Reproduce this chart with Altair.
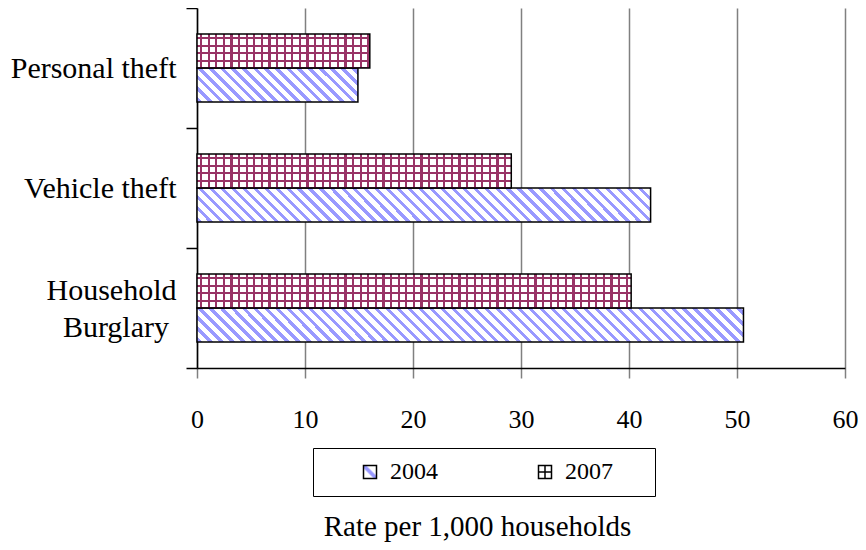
import math
import altair as alt
import pandas as pd

# ---------------- data ----------------
crimes = ["Personal theft", "Vehicle theft", "Household Burglary"]
years = ["2004", "2007"]
rate_2004 = [14.9, 42.0, 50.6]
rate_2007 = [16.0, 29.1, 40.2]
x_ticks = [0, 10, 20, 30, 40, 50, 60]

rows = []
for c, a, b in zip(crimes, rate_2004, rate_2007):
    rows.append({"crime": c, "year": "2004", "rate": a})
    rows.append({"crime": c, "year": "2007", "rate": b})
df = pd.DataFrame(rows)

# ---------------- style ----------------
FONT = "Liberation Serif"
PLOT_W, PLOT_H = 648, 360
X_MAX = 60
BAR_H = 34.0
PX = PLOT_W / X_MAX
BLUE = "#9999ff"
MAROON = "#993366"
WHITE = "#ffffff"
CLEAR = "rgba(255,255,255,0)"
CROSS_PATH = "M-1,-1H1V1H-1Z M0,-1V1 M-1,0H1"
NB = "\u00a0"
ZW = "\u200b"


def band_stops(length, period, width, phase, fg, bg, start=0.0):
    """Stops of a repeating band pattern along a gradient of `length` px."""
    stops = []
    m = math.floor((start - phase) / period) - 1
    while True:
        a = phase + m * period
        if a > start + length:
            break
        b = a + width
        ta = (a - start) / length
        tb = (b - start) / length
        if tb > 0 and ta < 1:
            ta = max(0.0, ta)
            tb = min(1.0, tb)
            stops += [(ta, bg), (ta, fg), (tb, fg), (tb, bg)]
        m += 1
    if not stops or stops[0][0] > 0:
        stops.insert(0, (0.0, bg))
    if stops[-1][0] < 1:
        stops.append((1.0, bg))
    out = []
    last = 0.0
    for o, c in stops:
        o = round(max(o, last), 5)
        last = o
        out.append({"offset": o, "color": c})
    return out


def diag_gradient(value):
    W = value * PX
    H = BAR_H
    k = (1 + H / W) / (1 + (H / W) ** 2)
    return {
        "gradient": "linear",
        "x1": 0, "y1": 1, "x2": round(k, 5), "y2": round(1 - k * H / W, 5),
        "stops": band_stops(W + H, 11.0, 4.5, 0.0, BLUE, WHITE, start=-H),
    }


def vlines_gradient(value):
    W = value * PX
    return {
        "gradient": "linear", "x1": 0, "y1": 0, "x2": 1, "y2": 0,
        "stops": band_stops(W, 7.6, 2.2, 3.0, MAROON, WHITE),
    }


hlines_gradient = {
    "gradient": "linear", "x1": 0, "y1": 0, "x2": 0, "y2": 1,
    "stops": band_stops(BAR_H, 7.6, 2.2, 3.0, MAROON, CLEAR),
}


def per_crime_fill(grads):
    conds = [
        {"test": f"datum.crime === '{c}'", "value": g}
        for c, g in zip(crimes[:-1], grads[:-1])
    ]
    return alt.FillValue(grads[-1], condition=conds)


# legend symbol fill: a diagonal band for 2004, plain white for 2007
LEGEND_FILL_EXPR = (
    "datum.value === '2004' ? {gradient: 'linear', x1: 0, y1: 1, x2: 1, y2: 0, "
    "stops: [{offset: 0, color: '#ffffff'}, {offset: 0.36, color: '#ffffff'}, "
    "{offset: 0.44, color: '" + BLUE + "'}, {offset: 0.56, color: '" + BLUE + "'}, "
    "{offset: 0.64, color: '#ffffff'}, {offset: 1, color: '#ffffff'}]} : '#ffffff'"
)

# ---------------- encodings ----------------
y_enc = alt.Y(
    "crime:N",
    sort=crimes,
    scale=alt.Scale(domain=crimes, paddingInner=0, paddingOuter=0),
    axis=alt.Axis(
        title=None,
        tickBand="extent",
        labelExpr="datum.value == 'Household Burglary' ? ['Household', 'Burglary" + NB + ZW + "'] : datum.label",
        labelFont=FONT, labelFontSize=30, labelColor="black",
        labelPadding=10, labelLimit=400, labelLineHeight=37,
        labelOffset={"condition": {"test": "datum.value == 'Household Burglary'", "value": -18},
                     "value": 0},
        tickSize=11, tickColor="black", tickWidth=1.5,
        domainColor="black", domainWidth=1.5, grid=False,
    ),
)

x_enc = alt.X(
    "rate:Q",
    scale=alt.Scale(domain=[0, X_MAX], nice=False, zero=True),
    axis=alt.Axis(
        values=x_ticks,
        title="Rate per 1,000 households",
        titleFont=FONT, titleFontSize=29, titleFontWeight="normal", titleColor="black",
        titleX=280, titleY=167, titleBaseline="alphabetic", titleAlign="center",
        grid=True, gridColor="#808080", gridWidth=1.5,
        domainColor="black", domainWidth=1.5,
        tickColor="#808080", tickSize=10, tickWidth=1.5,
        labelFont=FONT, labelFontSize=26, labelColor="black",
        labelPadding=49, labelBaseline="alphabetic", labelFlush=False,
    ),
)

yoff_enc = alt.YOffset(
    "year:N",
    sort=["2007", "2004"],
    scale=alt.Scale(domain=["2007", "2004"], paddingInner=0,
                    paddingOuter=(120.0 / BAR_H - 2) / 2),
)

base = alt.Chart(df).encode(x=x_enc, y=y_enc, yOffset=yoff_enc)

legend = alt.Legend(
    title=None, orient="none", legendX=116, legendY=440,
    direction="horizontal", columns=2,
    fillColor="white", strokeColor="black", padding=12,
    symbolSize=169, symbolStrokeColor="black",
    symbolStrokeWidth=1.5, symbolOpacity=1, symbolOffset=33,
    labelFont=FONT, labelFontSize=24, labelColor="black", labelOffset=8,
    columnPadding=62,
    labelExpr="datum.label == '2007' ? datum.label + '" + NB * 5 + ZW + "' : datum.label",
)

legend_layer = base.mark_point(
    filled=True, opacity=0, size=169, fill={"expr": LEGEND_FILL_EXPR},
    strokeWidth=1.5,
).encode(
    shape=alt.Shape("year:N",
                    scale=alt.Scale(domain=years, range=["square", CROSS_PATH]),
                    legend=legend),
    stroke=alt.Stroke("year:N",
                      scale=alt.Scale(domain=years, range=["black", "black"]),
                      legend=legend),
)

bars_2004 = base.transform_filter("datum.year === '2004'").mark_bar(
    stroke="black", strokeWidth=1.5
).encode(fill=per_crime_fill([diag_gradient(v) for v in rate_2004]))

bars_2007_v = base.transform_filter("datum.year === '2007'").mark_bar(
    strokeWidth=0
).encode(fill=per_crime_fill([vlines_gradient(v) for v in rate_2007]))

bars_2007_h = base.transform_filter("datum.year === '2007'").mark_bar(
    stroke="black", strokeWidth=1.5, fill=hlines_gradient
)

chart = alt.layer(legend_layer, bars_2004, bars_2007_v, bars_2007_h).properties(
    width=PLOT_W,
    height=PLOT_H,
    autosize=alt.AutoSizeParams(type="none"),
    padding={"left": 189, "top": 0, "right": 13, "bottom": 174},
).configure_view(strokeWidth=0)

chart.save("out.html", embed_options={"renderer": "svg", "actions": False})
